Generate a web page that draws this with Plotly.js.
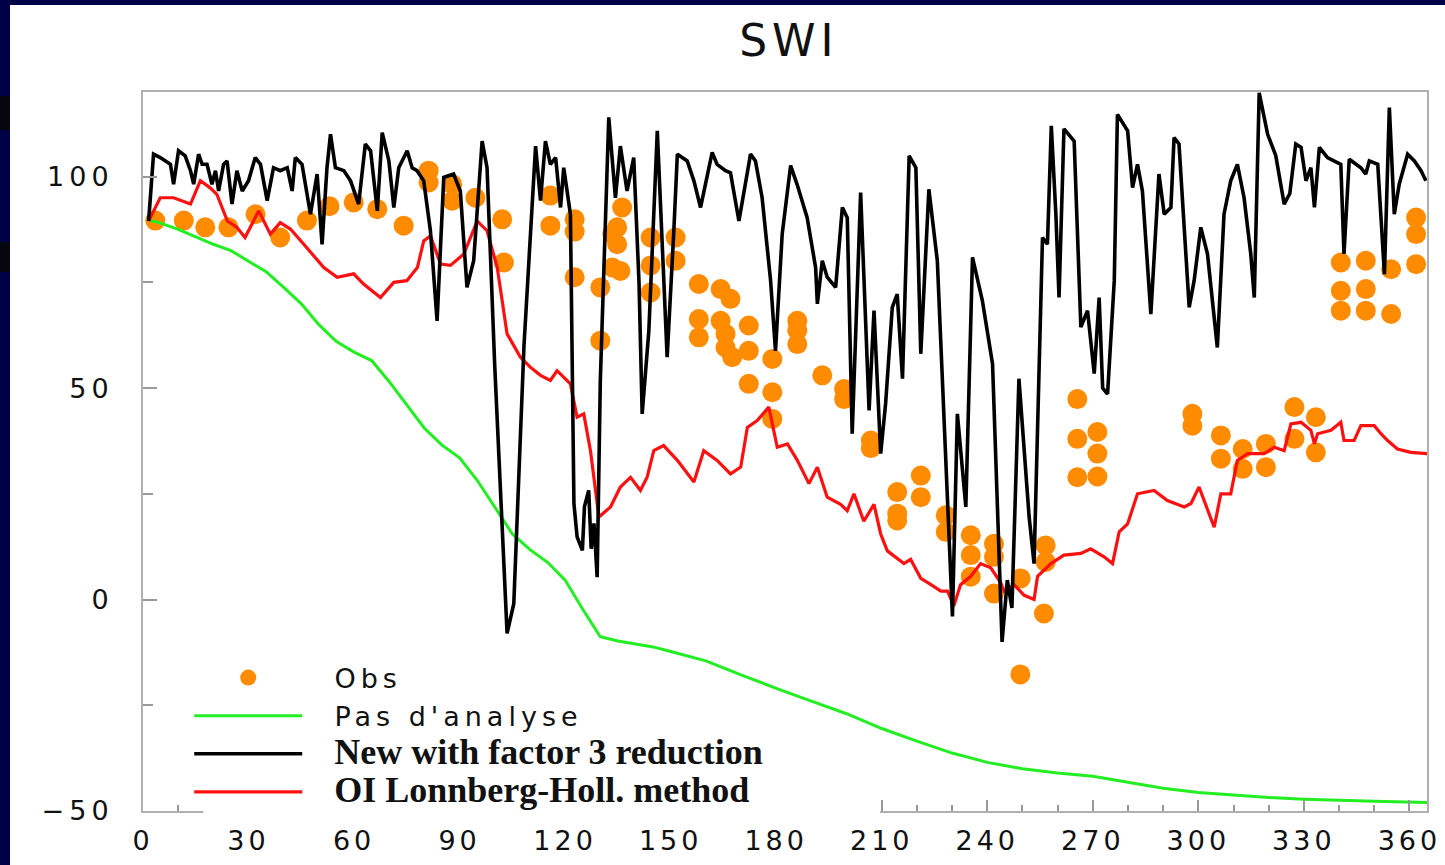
<!DOCTYPE html>
<html>
<head>
<meta charset="utf-8">
<script src="https://cdn.plot.ly/plotly-3.0.1.min.js"></script>
<style>
  html, body { margin: 0; padding: 0; width: 1445px; height: 865px; overflow: hidden; background: #000048; }
  #chart { position: absolute; left: 10px; top: 5px; width: 1435px; height: 860px; background: #fff; }
  .band { position: absolute; left: 0; width: 10px; background: #06060f; }
</style>
</head>
<body>
<div class="band" style="top:96px;height:34px"></div>
<div class="band" style="top:242px;height:30px"></div>
<div id="chart"></div>
<script>
// SWI over one year (day of year on x)

// "Pas d'analyse" (green)
const greenDays = [2, 5, 10, 15, 20, 25, 30, 35, 40, 45, 50, 55, 60, 65, 70, 75, 80, 85, 90, 95,
  100, 105, 110, 115, 120, 125, 130, 135, 140, 145, 150, 160, 170, 180, 190, 200, 210, 220, 230,
  240, 250, 260, 270, 280, 290, 300, 310, 320, 330, 340, 350, 365];
const greenVals = [89.6, 89, 87.5, 85.7, 84, 82.5, 80, 77.5, 73.8, 69.9, 65, 61, 58.5, 56.5, 51.5,
  46, 40.5, 36.5, 33.5, 28.2, 22, 15.5, 11.8, 8.8, 4.6, -2.3, -8.8, -9.8, -10.5, -11.2, -12.3,
  -14.5, -17.8, -21, -24, -27, -30.5, -33.5, -36.3, -38.5, -40, -41, -41.8, -43.2, -44.6, -45.6,
  -46.2, -46.8, -47.2, -47.5, -47.7, -48];

// "New with factor 3 reduction" (black)
const blackDays = [1.6, 3, 4.9, 7.8, 8.7, 10.1, 12, 13.5, 14.4, 15.8, 16.8, 18.2, 19.6, 20.6, 21.5,
  22.9, 23.9, 25.3, 26.7, 28.2, 30, 31.9, 33.4, 35.3, 37.1, 39, 41, 42.4, 43.3, 45.2, 47.6, 49.5,
  50.9, 52.3, 53.3, 54.7, 57.1, 59, 61.3, 63.2, 64.7, 66.6, 68, 69.9, 71.3, 72.7, 75.1, 76.5, 77.9,
  79.8, 81.7, 83.6, 85.5, 88.3, 90.2, 92.1, 94, 96.4, 97.8, 100, 103.5, 105.4, 108.3, 110.2, 111.6,
  113, 114.4, 115.8, 117.3, 118.7, 119.6, 121.5, 122.5, 123.4, 124.9, 125.5, 126.7, 127.4, 128.2,
  129.1, 130, 132.4, 134.3, 135.7, 137.6, 139.5, 141, 141.9, 143.8, 146.2, 147.6, 149, 150.9, 151.9,
  154.7, 156.6, 158.5, 161.8, 163.2, 165.6, 167, 169.4, 172.7, 174.1, 176, 178.4, 179.8, 181.7,
  184.1, 186, 188.8, 191.2, 191.7, 193.1, 194.5, 196.9, 198.8, 200.2, 201.6, 204, 206.4, 207.8,
  209.7, 211.1, 213, 214.4, 215.9, 217.8, 219.7, 221.1, 223.4, 225.8, 230.1, 231.5, 233.9, 235.8,
  238.6, 241.5, 244.2, 245.7, 247, 249, 251.9, 253.3, 255.7, 257.1, 258.2, 259.5, 260.4, 261.8,
  264.7, 266.6, 268.5, 270.4, 271.8, 272.8, 274.2, 276.1, 277, 279.9, 281.3, 282.7, 284.1, 286.5,
  288.8, 290.3, 292.2, 293.1, 294.5, 297.4, 298.8, 300.7, 302.6, 305.4, 307.3, 309.2, 311.1, 313,
  314.9, 315.9, 317.3, 319.7, 322, 324.4, 326, 327.7, 329.2, 330.6, 332, 333, 334.4, 336.7, 340.5,
  341.4, 342.9, 346.2, 347.6, 348.6, 351, 352.9, 354.3, 355.7, 357.1, 359.5, 361.4, 363.3, 364.7];
const blackVals = [89.5, 105.3, 104.5, 102.9, 98.2, 106.1, 104.9, 101.4, 98.2, 105.3, 102.9, 102.9,
  98.2, 101.4, 96.6, 102.9, 103.7, 93.5, 101.4, 96.6, 99, 104.5, 102.9, 94.3, 102.1, 101.4, 102.1,
  96.6, 104.5, 102.9, 91.1, 100.6, 84, 102.1, 110, 102.1, 101.4, 99, 93.5, 107.7, 106.1, 91.9, 110.4,
  103.7, 92.7, 102.1, 106.1, 102.1, 101.4, 99, 87.2, 65.9, 99.8, 100.6, 96.6, 73.8, 80.1, 108.4,
  102.1, 55, -8, -1, 60, 85.6, 107.2, 94.3, 108.4, 102.9, 104.5, 92.7, 102.1, 91.1, 22.7, 14.8, 11.6,
  22, 25.8, 12, 18, 5.3, 51.8, 114, 95, 107.2, 96.6, 104.5, 75, 43.9, 63.6, 110.8, 83.2, 57.3, 87.2,
  105.3, 103.7, 99, 92.7, 105.7, 102.9, 101.4, 100.9, 89.5, 105.3, 103.7, 95, 75.4, 58.8, 86.4,
  102.6, 98, 90.3, 78.5, 69.9, 80.1, 76.2, 73.8, 92.7, 90.3, 39.2, 96.2, 44.7, 68.3, 34.5, 46.3, 69.1,
  72.2, 52.2, 104.9, 102.1, 58.1, 97, 80.1, -4, 43.9, 21.9, 80.9, 70.7, 55.7, -10, 4.6, -2, 52.2,
  19.5, 8.5, 85.6, 84, 112, 91.1, 71.4, 111.3, 108.4, 64.4, 68.3, 53.4, 71.4, 50, 48.6, 75.4, 114.7,
  110.8, 97.4, 102.9, 96.6, 67.5, 100.6, 91.1, 92.7, 109.2, 107.7, 69.1, 75.4, 88, 81.7, 59.6, 91.1,
  99, 102.9, 95, 81.7, 71.4, 119.8, 110, 105, 93.5, 96, 107.7, 106.9, 99, 102.1, 92.7, 106.9, 104.5,
  102.9, 81.7, 104.1, 102.1, 100.6, 103.7, 102.9, 76.9, 116.3, 91.1, 98.2, 105.3, 103.7, 101.4, 99];

// "OI Lonnberg-Holl. method" (red)
const redDays = [1.6, 4.9, 8.7, 13.5, 16.3, 19, 21, 24, 26.7, 29, 32.9, 36.2, 39, 41.9, 45.7, 51.4,
  55.2, 59.9, 62.7, 67.5, 71.3, 75, 78, 79.8, 81.7, 84.6, 87.4, 91.2, 95, 97.8, 100.7, 103.5, 107.3,
  110, 113, 115.8, 117.7, 121.5, 123.4, 125.3, 127.2, 129.6, 132.9, 135.7, 138.6, 141.4, 143.3,
  145.2, 148, 151.9, 156.6, 159.4, 163.2, 167, 169.9, 171.8, 174.6, 177.9, 180.3, 183.2, 186, 189.3,
  191.7, 194.5, 198.3, 200.2, 202.1, 204.9, 207.8, 209.7, 211.6, 216.3, 218.2, 221.1, 224, 226.8,
  228.7, 230.5, 232.4, 235.3, 238.1, 241, 243.8, 244.8, 247.6, 250.5, 253.3, 254.3, 258.1, 261.8,
  266.6, 269.4, 273.2, 275.6, 277.5, 279.9, 282.7, 287.4, 291.2, 296, 297.9, 300.2, 304.5, 306.4,
  309.2, 311.1, 314, 318.7, 321.6, 324.4, 326.3, 329.2, 332, 333, 333.9, 337.7, 340.5, 341.4, 344.3,
  346.2, 350, 351.9, 353.8, 356.6, 360.4, 365];
const redVals = [89.5, 95, 95, 93.5, 99, 97.4, 95.8, 89.5, 88, 85.6, 91.9, 86.4, 89.1, 87.6, 84, 78.5,
  76.2, 77, 74.6, 71.4, 75, 75.4, 78.5, 84.8, 86, 79.3, 79, 81.7, 89.5, 87.2, 78.5, 62.8, 57.3, 55,
  53, 51.8, 54.1, 51, 43.1, 43.9, 35.2, 19.5, 21.9, 26.6, 28.9, 25.8, 28.9, 35.2, 36.4, 32.9, 27.8,
  35.2, 32.9, 29.7, 31.3, 40.7, 42.3, 45.5, 36, 36.8, 32.9, 27.4, 31.3, 24.2, 22.5, 21, 25, 18.5,
  22.5, 15.5, 11.5, 8.5, 9.5, 5, 3.5, 2, 2, -1.5, 3.5, 5.5, 8.5, 7.5, 4, 2, 3.5, 1, 0, 5.5, 8.5,
  10.5, 10.9, 12, 10.1, 8.5, 16, 17.9, 25, 25.8, 23.4, 21.9, 22.7, 26.6, 17.1, 25, 25, 32.9,
  34.5, 34.5, 36, 35.2, 41.5, 41.9, 40, 36.8, 39.2, 40, 41.9, 37.6, 37.6, 41.1, 41.1, 39.2, 37.6,
  35.6, 34.8, 34.5];

// "Obs" (orange dots)
const obsDays = [3.5, 11.6, 17.7, 24.3, 32, 39, 46.6, 53, 59.9, 66.6, 74.1, 81.2, 81.2, 87.9, 87.9,
  94.5, 102.1, 102.6, 115.8, 115.8, 122.7, 122.7, 122.7, 130, 130, 133.4, 134.8, 136.2, 134.8, 133.4,
  135.7, 144.3, 144.3, 144.3, 151.4, 151.4, 158, 164.2, 167, 158, 158, 164.2, 165.6, 172.2, 165.6,
  172.2, 167.5, 178.9, 186, 186, 186, 172.2, 178.9, 178.9, 193.1, 199.3, 199.3, 206.9, 206.9, 221.1,
  214.4, 221.1, 214.4, 214.4, 228.2, 228.2, 235.3, 235.3, 235.3, 241.9, 241.9, 241.9, 249.5, 249.4,
  256.6, 256.6, 256.1, 265.6, 265.6, 271.3, 271.3, 265.6, 271.3, 298.3, 298.3, 306.4, 306.4, 312.6,
  312.6, 319.2, 319.2, 327.3, 327.3, 333.4, 333.4, 340.5, 347.6, 354.8, 361.9, 361.9, 361.9, 340.5,
  347.6, 340.5, 347.6, 354.8];
const obsVals = [89.6, 89.6, 88, 88, 91.1, 85.6, 89.6, 93, 93.9, 92.3, 88.4, 101.4, 98.6, 98.2, 94.3,
  95, 89.9, 79.7, 95.5, 88.4, 89.9, 87, 76.2, 73.8, 61.2, 86.4, 88, 92.7, 84, 78.5, 77.7, 85.6, 79,
  72.6, 85.6, 80.1, 74.6, 73.4, 71.1, 66.3, 62, 65.9, 62.8, 64.8, 59.6, 58.8, 57.3, 56.9, 65.9, 63.6,
  60.4, 51, 49, 42.7, 53, 49.8, 47.4, 37.6, 35.8, 29.3, 25.4, 24.2, 20.3, 18.7, 19.9, 16, 15.2, 10.5,
  5.4, 13.2, 10.1, 1.4, 5, -17.7, 12.8, 8.9, -3.3, 47.4, 38, 39.6, 34.5, 28.9, 29.1, 43.9, 41.1, 38.8,
  33.3, 35.6, 30.9, 36.8, 31.3, 45.5, 38, 43.1, 34.8, 79.7, 80.1, 78.1, 90.3, 86.4, 79.3, 73, 73.4,
  68.3, 68.3, 67.5];

const xTicks = [0, 30, 60, 90, 120, 150, 180, 210, 240, 270, 300, 330, 360];
const yTicks = [-50, 0, 50, 100];

// the original figure has wide, stretched lettering
const wide = (s, ls) => `<span style="letter-spacing:${ls}px">${s}</span>`;
const label = (v) => (v < 0 ? "\u2212" + Math.abs(v) : String(v));
const serif = (s) =>
  `<span style="font-family:'Liberation Serif','Times New Roman',serif;font-size:36px;font-weight:bold">\u00a0\u00a0\u00a0${s}</span>`;
const sans = (s) => wide("\u00a0\u00a0" + s, 5);

const traces = [
  {
    type: "scatter", mode: "markers", name: sans("Obs"),
    x: obsDays, y: obsVals,
    marker: { color: "#ff8c00", size: 20 },
    legendrank: 1,
  },
  {
    type: "scatter", mode: "lines", name: sans("Pas d'analyse"),
    x: greenDays, y: greenVals,
    line: { color: "#22ee22", width: 3 },
    legendrank: 2,
  },
  {
    type: "scatter", mode: "lines", name: serif("OI Lonnberg-Holl. method"),
    x: redDays, y: redVals,
    line: { color: "#ff1010", width: 3.2 },
    legendrank: 4,
  },
  {
    type: "scatter", mode: "lines", name: serif("New with factor 3 reduction"),
    x: blackDays, y: blackVals,
    line: { color: "#000000", width: 3.6 },
    legendrank: 3,
  },
];

const tickFont = { family: "DejaVu Sans, sans-serif", size: 27, color: "#111" };

const layout = {
  width: 1435,
  height: 860,
  paper_bgcolor: "#ffffff",
  plot_bgcolor: "#ffffff",
  margin: { l: 133, r: 18, t: 87, b: 54 },
  title: {
    text: wide("SWI", 5),
    font: { family: "DejaVu Sans, sans-serif", size: 44, color: "#111" },
    xref: "paper", x: 0.503, xanchor: "center",
    yref: "container", y: 1 - 36 / 860, yanchor: "middle",
  },
  xaxis: {
    range: [0, 365],
    tickvals: xTicks,
    ticktext: xTicks.map((v) => wide(label(v), 4)),
    ticks: "inside", ticklen: 11, tickwidth: 2, tickcolor: "#999",
    minor: { dtick: 10, tick0: 0, ticks: "inside", ticklen: 6, tickwidth: 2, tickcolor: "#999" },
    showline: true, linecolor: "#b0b0b0", linewidth: 2, mirror: true,
    showgrid: false, zeroline: false,
    tickfont: tickFont,
    ticklabelstandoff: 5,
  },
  yaxis: {
    range: [-50, 120],
    tickvals: yTicks,
    ticktext: yTicks.map((v) => wide(label(v), 5)),
    ticks: "inside", ticklen: 14, tickwidth: 2, tickcolor: "#999",
    minor: { dtick: 25, tick0: 0, ticks: "inside", ticklen: 10, tickwidth: 2, tickcolor: "#999" },
    showline: true, linecolor: "#b0b0b0", linewidth: 2, mirror: true,
    showgrid: false, zeroline: false,
    tickfont: tickFont,
    ticklabelstandoff: 22,
  },
  legend: {
    x: 0.036, xanchor: "left",
    y: 0.219, yanchor: "top",
    bgcolor: "rgba(0,0,0,0)",
    borderwidth: 0,
    itemwidth: 108,
    font: { family: "DejaVu Sans, sans-serif", size: 27, color: "#111" },
  },
  shapes: [
    {
      // white box of the legend hiding part of the bottom axis
      type: "rect", xref: "paper", yref: "paper", layer: "above",
      x0: 0.047, x1: 0.574, y0: -0.006, y1: 0.018,
      fillcolor: "#ffffff", line: { width: 0 },
    },
  ],
  showlegend: true,
};

Plotly.newPlot("chart", traces, layout, { displayModeBar: false, staticPlot: true });
</script>
</body>
</html>
